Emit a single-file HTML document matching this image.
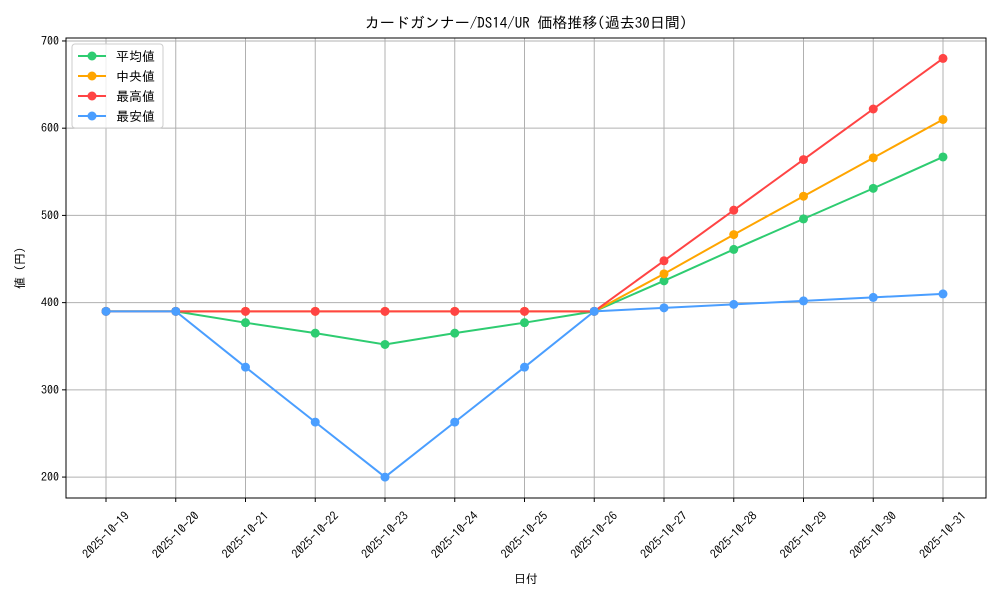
<!DOCTYPE html>
<html><head><meta charset="utf-8">
<style>
body{margin:0;background:#fff;}
svg{display:block;font-family:"IPAGothic","Liberation Sans","Noto Sans CJK JP",sans-serif;}
</style></head>
<body>
<svg id="chart" width="1000" height="600"></svg>
<script>
const categories=["2025-10-19","2025-10-20","2025-10-21","2025-10-22","2025-10-23","2025-10-24","2025-10-25","2025-10-26","2025-10-27","2025-10-28","2025-10-29","2025-10-30","2025-10-31"];
const avgValues=[390,390,377,365,352,365,377,390,425,461,496,531,567];
const medianValues=[390,390,390,390,390,390,390,390,433,478,522,566,610];
const maxValues=[390,390,390,390,390,390,390,390,448,506,564,622,680];
const minValues=[390,390,326,263,200,263,326,390,394,398,402,406,410];
const yTicks=[200,300,400,500,600,700];
const seriesNames=["平均値","中央値","最高値","最安値"];

const NS="http://www.w3.org/2000/svg";
const svg=document.getElementById("chart");
const L=66,R=986,T=38,B=498;
const yMin=176,yMax=703.4;
function xs(i){return 106+i*(943-106)/(categories.length-1);}
function ys(v){return B-(v-yMin)/(yMax-yMin)*(B-T);}
function el(tag,attrs,parent){const e=document.createElementNS(NS,tag);for(const k in attrs)e.setAttribute(k,attrs[k]);(parent||svg).appendChild(e);return e;}

categories.forEach((c,i)=>{
  const g=el("line",{x1:xs(i),x2:xs(i),y1:T,y2:B,stroke:"#b0b0b0","stroke-width":1});
  
  
  const tk=el("line",{x1:xs(i),x2:xs(i),y1:B,y2:B+4,stroke:"#000"});
  
  
  const cx=xs(i),cy=B+37;
  const t=el("text",{x:cx,y:cy+4,"font-size":12,"text-anchor":"middle",transform:`rotate(-45 ${cx} ${cy})`});
  t.textContent=c;
  
  
});
yTicks.forEach(v=>{
  const g=el("line",{x1:L,x2:R,y1:ys(v),y2:ys(v),stroke:"#b0b0b0","stroke-width":1});
  
  
  const tk=el("line",{x1:L-4,x2:L,y1:ys(v),y2:ys(v),stroke:"#000"});
  
  
  const t=el("text",{x:L-7,y:ys(v)+4,"font-size":12,"text-anchor":"end"});
  t.textContent=v;
  
  
});
const frame=el("rect",{x:L,y:T,width:R-L,height:B-T,fill:"none",stroke:"#000","stroke-width":1});



const series=[[avgValues,"#2ecc71","avg"],[medianValues,"#ffa500","median"],[maxValues,"#ff4444","max"],[minValues,"#4a9eff","min"]];
series.forEach(([vals,col,nm])=>{
  const p=el("polyline",{points:vals.map((v,i)=>xs(i)+","+ys(v)).join(" "),fill:"none",stroke:col,"stroke-width":2});
  
  
  vals.forEach((v,i)=>{
    const c=el("circle",{cx:xs(i),cy:ys(v),r:4.5,fill:col});
    
    
  });
});

const lg=el("g",{});


el("rect",{x:72,y:44,width:91,height:84,rx:3,fill:"#fff","fill-opacity":0.8,stroke:"#ccc"},lg);
series.forEach(([v,col,nm],k)=>{
  const y=56+k*20;
  const g=el("g",{},lg);
  
  
  el("line",{x1:78,x2:106,y1:y,y2:y,stroke:col,"stroke-width":2},g);
  el("circle",{cx:92,cy:y,r:4.5,fill:col},g);
  const t=el("text",{x:116,y:y+5,"font-size":13},g);
  t.textContent=seriesNames[k];
});

const title=el("text",{x:526,y:28,"font-size":15,"text-anchor":"middle"});
title.textContent="カードガンナー/DS14/UR 価格推移(過去30日間)";


const xt=el("text",{x:526,y:583,"font-size":12,"text-anchor":"middle"});
xt.textContent="日付";


const yt=el("text",{x:24,y:268,"font-size":12,"text-anchor":"middle",transform:"rotate(-90 24 268)"});
yt.textContent="値 (円)";


</script>
</body></html>
